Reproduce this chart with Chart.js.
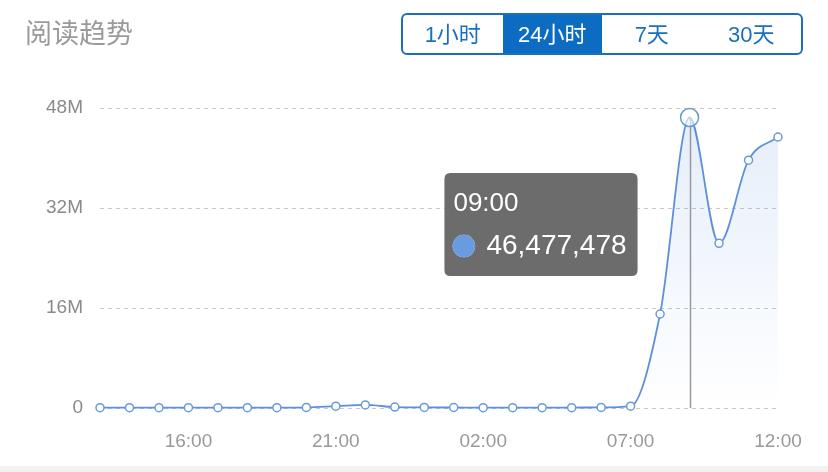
<!DOCTYPE html>
<html><head><meta charset="utf-8">
<script src="https://cdn.jsdelivr.net/npm/chart.js@4"></script>
<style>
html,body{margin:0;padding:0;background:#fff;width:828px;height:472px;overflow:hidden;font-family:"Helvetica Neue","Liberation Sans",Arial,"Noto Sans CJK SC",sans-serif;}
#wrap{position:absolute;left:0;top:0;width:828px;height:466px;}
#c{position:absolute;left:0;top:0;}
#title{position:absolute;left:25px;top:17px;font-size:27px;line-height:34px;color:#9a9a9a;z-index:2;}
#btns{position:absolute;left:401px;top:13px;width:398px;height:38px;border:2px solid #1a6fbf;border-radius:6px;display:flex;overflow:hidden;z-index:2;}
#btns div{flex:1;text-align:center;line-height:40px;font-size:22px;color:#1a6fbf;}
#btns div.on{background:#0b6cc2;color:#fff;}
#strip{position:absolute;left:0;top:466px;width:828px;height:6px;background:#f2f2f2;}
</style></head>
<body>
<div id="wrap"><canvas id="c" width="828" height="466"></canvas></div>
<div id="title">阅读趋势</div>
<div id="btns"><div>1小时</div><div class="on">24小时</div><div>7天</div><div>30天</div></div>
<div id="strip"></div>
<script>
const hours = ['13:00','14:00','15:00','16:00','17:00','18:00','19:00','20:00','21:00','22:00','23:00','00:00','01:00','02:00','03:00','04:00','05:00','06:00','07:00','08:00','09:00','10:00','11:00','12:00'];
const reads = [50000,50000,50000,50000,50000,50000,60000,100000,300000,500000,150000,100000,80000,60000,50000,50000,60000,100000,300000,15040000,46477478,26350000,39650000,43360000];
const yTicks = [0,16000000,32000000,48000000];
const shownLabels = ['16:00','21:00','02:00','07:00','12:00'];
const activeIndex = 20;
const FONT = '"Helvetica Neue","Liberation Sans",Arial,sans-serif';

Chart.Tooltip.positioners.leftOf = function(items){
  if(!items.length) return false;
  const el = items[0].element;
  return {x: el.x - 52, y: el.y + 107};
};

const crosshair = {
  id:'crosshair',
  beforeDatasetsDraw(chart){
    const act = chart.getActiveElements();
    if(!act.length) return;
    const el = act[0].element;
    const ctx = chart.ctx;
    ctx.save();
    ctx.strokeStyle='#9a9a9a';
    ctx.lineWidth=1.5;
    ctx.beginPath();
    ctx.moveTo(Math.round(el.x)+0.5, el.y);
    ctx.lineTo(Math.round(el.x)+0.5, chart.chartArea.bottom);
    ctx.stroke();
    ctx.restore();
  }
};

const chart = new Chart(document.getElementById('c'), {
  type:'line',
  data:{
    labels: hours,
    datasets:[{
      data: reads,
      borderColor:'#5e90d9',
      borderWidth:1.8,
      cubicInterpolationMode:'monotone',
      pointRadius:4,
      pointBorderWidth:1.5,
      pointBackgroundColor:'#fff',
      pointBorderColor:'#6a9ad9',
      pointHoverRadius:9,
      pointHoverBorderWidth:1.5,
      pointHoverBackgroundColor:'rgba(255,255,255,0.6)',
      pointHoverBorderColor:'#6a9ad9',
      fill:true,
      clip:false,
      backgroundColor(ctx){
        const ca = ctx.chart.chartArea;
        if(!ca) return 'rgba(100,150,220,0.1)';
        const g = ctx.chart.ctx.createLinearGradient(0, ca.top, 0, ca.bottom);
        g.addColorStop(0,'rgba(100,150,225,0.17)');
        g.addColorStop(1,'rgba(100,150,225,0.0)');
        return g;
      }
    }]
  },
  options:{
    responsive:false,
    animation:false,
    events:[],
    layout:{padding:{top:108,right:50,bottom:0,left:0}},
    plugins:{
      legend:{display:false},
      tooltip:{
        enabled:true,
        position:'leftOf',
        xAlign:'right',
        yAlign:'center',
        caretSize:0,
        caretPadding:0,
        backgroundColor:'rgba(95,95,95,0.92)',
        cornerRadius:6,
        padding:{left:9,right:11,top:15,bottom:13},
        titleFont:{size:26,weight:'normal',family:FONT},
        titleColor:'#fff',
        titleMarginBottom:10,
        bodyFont:{size:28,family:FONT},
        bodyColor:'#fff',
        usePointStyle:true,
        boxWidth:21,
        boxHeight:21,
        boxPadding:10,
        displayColors:true,
        callbacks:{
          title(items){return items[0].label;},
          label(item){return item.raw.toLocaleString('en-US');},
          labelPointStyle(){return {pointStyle:'circle',rotation:0};},
          labelColor(){return {borderColor:'#6a9be0',backgroundColor:'#6a9be0',borderWidth:0};}
        }
      }
    },
    scales:{
      x:{
        grid:{display:false,drawTicks:false},
        border:{display:false},
        afterFit(s){s.height=58;},
        ticks:{
          autoSkip:false,maxRotation:0,padding:22,color:'#999',
          font:{size:19,family:FONT},
          callback(v,i){const l=hours[i];return shownLabels.includes(l)?l:null;}
        }
      },
      y:{
        min:yTicks[0],max:yTicks[yTicks.length-1],
        afterFit(s){s.width=100;},
        afterBuildTicks(s){s.ticks=yTicks.map(v=>({value:v}));},
        grid:{color:'#c8c8c8',lineWidth:1,drawTicks:false},
        border:{display:false,dash:[4,4]},
        ticks:{
          padding:17,color:'#8a8a8a',
          font:{size:19,family:FONT},
          callback(v){return v===0?'0':(v/1000000)+'M';}
        }
      }
    }
  },
  plugins:[crosshair]
});

const act=[{datasetIndex:0,index:activeIndex}];
chart.setActiveElements(act);
const el = chart.getDatasetMeta(0).data[activeIndex];
chart.tooltip.setActiveElements(act,{x:el.x,y:el.y});
chart.update('none');
</script>
</body></html>
